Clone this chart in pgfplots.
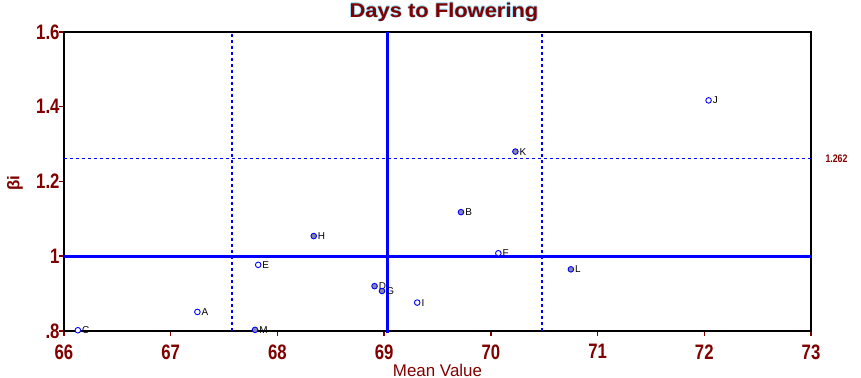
\documentclass[border=0pt]{standalone}
\usepackage{pgfplots}
\pgfplotsset{compat=1.18}
\usepackage{fontspec}
\setmainfont{Liberation Sans}
\definecolor{dred}{HTML}{800000}
\definecolor{pblue}{HTML}{0000FF}
\definecolor{mgray}{HTML}{8888AA}
\newcommand{\tl}[1]{\scalebox{0.8}[1]{#1}}
\newcommand{\ttl}{\scalebox{1.1}[1]{Days to Flowering}}
\tikzset{glow/.style={text=cyan!45, font=\fontsize{20}{20}\selectfont\bfseries}}
\begin{document}
\begin{tikzpicture}
\begin{axis}[
  scale only axis, width=747bp, height=299bp,
  xmin=66, xmax=73, ymin=0.8, ymax=1.6,
  xtick={66,67,68,69,70,71,72,73},
  xticklabels={\tl{66},\tl{67},\tl{68},\tl{69},\tl{70},\tl{71},\tl{72},\tl{73}},
  ytick={0.8,1,1.2,1.4,1.6},
  yticklabels={\tl{.8},\tl{1},\tl{1.2},\tl{1.4},\tl{1.6}},
  tick label style={font=\fontsize{21}{21}\selectfont\bfseries, text=dred},
  xticklabel style={yshift=-5bp},
  yticklabel style={xshift=4bp},
  axis line style={line width=2.4bp, black},
  tick style={dred, line width=1.5bp},
  tick align=outside, major tick length=5bp,
  xtick pos=left, ytick pos=left,
  clip=false,
]
\addplot[pblue, line width=3bp] coordinates {(69.03,0.795) (69.03,1.6)};
\addplot[pblue, line width=3bp] coordinates {(66,1) (73,1)};
\addplot[pblue, line width=1.3bp, dash pattern=on 3bp off 3bp] coordinates {(67.575,0.8) (67.575,1.6)};
\addplot[pblue, line width=1.3bp, dash pattern=on 3bp off 3bp] coordinates {(70.48,0.8) (70.48,1.6)};
\addplot[pblue, line width=1.2bp, dash pattern=on 3bp off 3bp] coordinates {(66,1.262) (73,1.262)};
% hollow markers
\addplot[only marks, mark=*, mark size=2.8bp,
  mark options={draw=pblue, fill=white, line width=0.9bp},
  nodes near coords, point meta=explicit symbolic,
  nodes near coords style={anchor=west, font=\fontsize{10}{10}\selectfont, text=black, xshift=0.5bp}]
  table[meta=lab] {
x y lab
66.13 0.802 C
67.25 0.851 A
67.82 0.977 E
69.31 0.876 I
70.07 1.008 F
72.04 1.417 J
};
% filled markers
\addplot[only marks, mark=*, mark size=2.8bp,
  mark options={draw=pblue, fill=mgray, line width=0.9bp},
  nodes near coords, point meta=explicit symbolic,
  nodes near coords style={anchor=west, font=\fontsize{10}{10}\selectfont, text=black, xshift=0.5bp}]
  table[meta=lab] {
x y lab
67.79 0.803 M
68.34 1.054 H
68.91 0.920 D
68.98 0.907 G
69.72 1.118 B
70.23 1.280 K
70.75 0.965 L
};
\node[anchor=west, text=dred, font=\fontsize{11}{11}\selectfont\bfseries, xshift=11bp] at (axis cs:73,1.262) {\tl{1.262}};
\node[text=dred, font=\fontsize{17}{17}\selectfont] at (axis description cs:0.5,0) [yshift=-39bp] {Mean Value};
\node[text=dred, font=\fontsize{17}{17}\selectfont\bfseries, rotate=90] at (axis description cs:-0.0656,0.495) {βi};
\node[glow] at (axis description cs:0.5,1) [xshift=5.7bp, yshift=20bp] {\ttl};
\node[glow] at (axis description cs:0.5,1) [xshift=7.3bp, yshift=20bp] {\ttl};
\node[glow] at (axis description cs:0.5,1) [xshift=6.5bp, yshift=19.2bp] {\ttl};
\node[glow] at (axis description cs:0.5,1) [xshift=6.5bp, yshift=20.8bp] {\ttl};
\node[text=dred, font=\fontsize{20}{20}\selectfont\bfseries] at (axis description cs:0.5,1) [xshift=6.5bp, yshift=20bp] {\ttl};
\end{axis}
\pgfresetboundingbox
\path[use as bounding box] ([xshift=-64bp,yshift=-47bp]current axis.south west) rectangle ([xshift=50bp,yshift=32bp]current axis.north east);
\end{tikzpicture}
\end{document}
